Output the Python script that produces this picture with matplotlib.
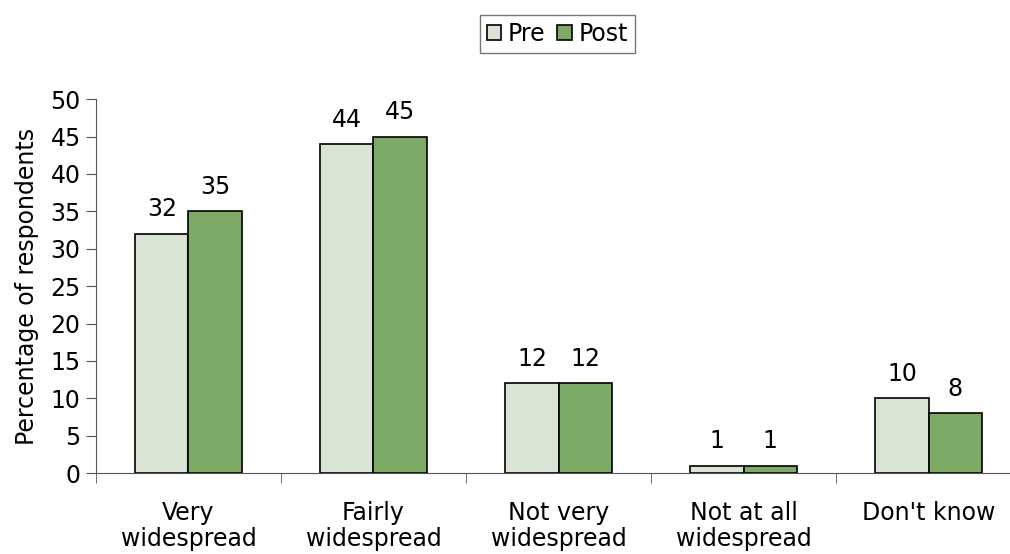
import numpy as np
import matplotlib.pyplot as plt

categories = ["Very\nwidespread", "Fairly\nwidespread", "Not very\nwidespread",
              "Not at all\nwidespread", "Don't know"]
pre = [32, 44, 12, 1, 10]
post = [35, 45, 12, 1, 8]

plt.rcParams['font.family'] = ['DejaVu Sans']
plt.rcParams['font.size'] = 17

fig = plt.figure(figsize=(10.1, 5.54), dpi=100)
ax = fig.add_axes([0.095, 0.146, 0.916, 0.675])

x = np.arange(len(categories))
w = 0.287
b1 = ax.bar(x - w / 2, pre, w, color="#d9e4d4", edgecolor="black", linewidth=1.2, label="Pre")
b2 = ax.bar(x + w / 2, post, w, color="#7eaa68", edgecolor="black", linewidth=1.2, label="Post")
ax.bar_label(b1, padding=9)
ax.bar_label(b2, padding=9)

ax.set_xlim(-0.5, len(categories) - 0.5)
ax.set_ylim(0, 50)
ax.set_yticks(range(0, 51, 5))
ax.set_xticks(x)
ax.set_xticklabels(categories, linespacing=1.1)
ax.set_xticks(np.arange(len(categories) + 1) - 0.5, minor=True)
ax.tick_params(axis='x', which='major', length=0, pad=20)
ax.tick_params(axis='x', which='minor', length=7, direction='out', color='#555555')
ax.tick_params(axis='y', length=7, direction='out', color='#555555', pad=4)
ax.set_ylabel("Percentage of respondents", labelpad=8)

for s in ["top", "right"]:
    ax.spines[s].set_visible(False)
ax.spines["left"].set_color("#555555")
ax.spines["bottom"].set_color("#555555")

leg = fig.legend(loc="center", bbox_to_anchor=(0.552, 0.939), ncol=2, frameon=True,
                 fancybox=False, edgecolor="#555555", handlelength=0.6, handleheight=0.6,
                 handletextpad=0.3, columnspacing=0.5, borderpad=0.3)
leg.get_frame().set_linewidth(1.0)

fig.savefig("out.png", dpi=100)
